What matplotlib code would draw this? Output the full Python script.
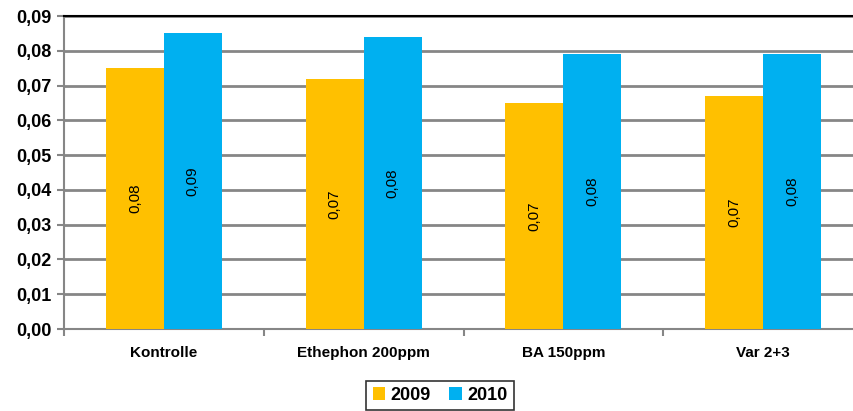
from decimal import Decimal, ROUND_HALF_UP
import numpy as np
import matplotlib.pyplot as plt

categories = ["Kontrolle", "Ethephon 200ppm", "BA 150ppm", "Var 2+3"]
vals_2009 = [0.075, 0.072, 0.065, 0.067]
vals_2010 = [0.085, 0.084, 0.079, 0.079]
series = ["2009", "2010"]
yticks = [0.00, 0.01, 0.02, 0.03, 0.04, 0.05, 0.06, 0.07, 0.08, 0.09]


def fmt(v):
    # Excel-style rounding (half up) with a decimal comma
    d = Decimal(str(v)).quantize(Decimal("0.01"), rounding=ROUND_HALF_UP)
    return str(d).replace(".", ",")


plt.rcParams['font.family'] = ['Liberation Sans', 'DejaVu Sans']

fig = plt.figure(figsize=(8.54, 4.11), dpi=100)
ax = fig.add_axes([64 / 854, 1 - 329 / 411, 799 / 854, 313 / 411])

x = np.arange(len(categories))
w = 0.29
b1 = ax.bar(x - w / 2, vals_2009, w, color="#FFC000", label=series[0], zorder=3)
b2 = ax.bar(x + w / 2, vals_2010, w, color="#00B0F0", label=series[1], zorder=3)

for bars, vals in [(b1, vals_2009), (b2, vals_2010)]:
    for r, v in zip(bars, vals):
        ax.text(r.get_x() + r.get_width() / 2, v / 2, fmt(v), rotation=90,
                ha="center", va="center", fontsize=11, zorder=4)

ax.set_xlim(-0.5, len(categories) - 0.5)
ax.set_ylim(0, 0.09)
ax.set_yticks(yticks)
ax.set_yticklabels([fmt(t) for t in yticks], fontsize=13, fontweight="bold")
ax.set_xticks(x)
ax.set_xticklabels(categories, fontsize=11, fontweight="bold")
ax.set_xticks(np.arange(len(categories) + 1) - 0.5, minor=True)
ax.tick_params(axis="x", which="major", length=0, pad=12)
ax.tick_params(axis="x", which="minor", length=5, color="#868686", width=1.5)
ax.tick_params(axis="y", length=5, color="#868686", width=1.5, pad=4)

ax.grid(axis="y", color="#868686", linewidth=2, zorder=1)
for s in ["left", "bottom"]:
    ax.spines[s].set_color("#868686")
    ax.spines[s].set_linewidth(1.5)
ax.spines["right"].set_visible(False)
ax.spines["top"].set_color("black")
ax.spines["top"].set_linewidth(1.5)
ax.spines["top"].set_zorder(5)

leg = fig.legend(loc="lower center", bbox_to_anchor=(440 / 854, -0.02), ncol=2,
                 frameon=True, fancybox=False, edgecolor="black",
                 prop={"size": 13, "weight": "bold"}, handlelength=0.7,
                 handleheight=0.7, handletextpad=0.3, columnspacing=1.0,
                 borderpad=0.35)
leg.get_frame().set_linewidth(1.2)

fig.savefig("out.png", dpi=100)
